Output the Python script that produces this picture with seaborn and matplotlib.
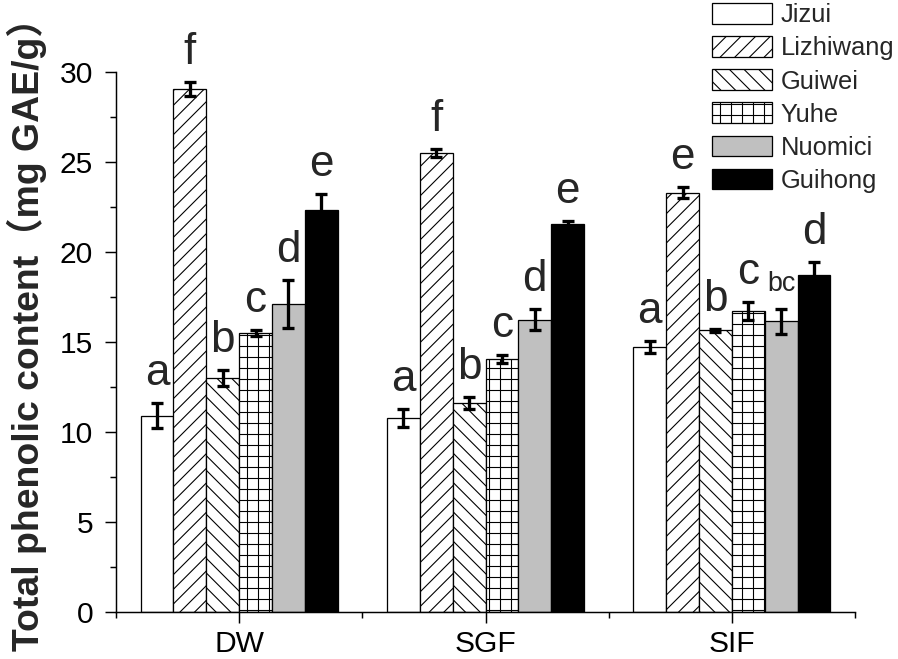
import pandas as pd
import matplotlib
matplotlib.use('Agg')
import matplotlib.pyplot as plt
from matplotlib.patches import Patch
from matplotlib.ticker import MultipleLocator, FixedLocator
import seaborn as sns

groups = ['DW', 'SGF', 'SIF']
cultivars = ['Jizui', 'Lizhiwang', 'Guiwei', 'Yuhe', 'Nuomici', 'Guihong']

# mean values per cultivar (DW, SGF, SIF)
jizui = [10.9, 10.8, 14.7]
lizhiwang = [29.05, 25.5, 23.3]
guiwei = [13.0, 11.6, 15.65]
yuhe = [15.5, 14.05, 16.75]
nuomici = [17.1, 16.25, 16.15]
guihong = [22.35, 21.55, 18.75]

# standard deviations
jizui_sd = [0.7, 0.5, 0.33]
lizhiwang_sd = [0.4, 0.2, 0.3]
guiwei_sd = [0.42, 0.33, 0.08]
yuhe_sd = [0.15, 0.23, 0.5]
nuomici_sd = [1.35, 0.6, 0.68]
guihong_sd = [0.85, 0.15, 0.67]

# significance letters
jizui_lt = ['a', 'a', 'a']
lizhiwang_lt = ['f', 'f', 'e']
guiwei_lt = ['b', 'b', 'b']
yuhe_lt = ['c', 'c', 'c']
nuomici_lt = ['d', 'd', 'bc']
guihong_lt = ['e', 'e', 'd']

means = [jizui, lizhiwang, guiwei, yuhe, nuomici, guihong]
sds = [jizui_sd, lizhiwang_sd, guiwei_sd, yuhe_sd, nuomici_sd, guihong_sd]
letters = [jizui_lt, lizhiwang_lt, guiwei_lt, yuhe_lt, nuomici_lt, guihong_lt]

rows = []
for c, m, s, l in zip(cultivars, means, sds, letters):
    for g, mv, sv, lv in zip(groups, m, s, l):
        rows.append({'group': g, 'cultivar': c, 'value': mv, 'sd': sv, 'letter': lv})
df = pd.DataFrame(rows)

sns.set_style('ticks')
plt.rcParams['font.family'] = ['Liberation Sans', 'Noto Sans CJK SC', 'DejaVu Sans']
plt.rcParams['hatch.linewidth'] = 0.6

# dpi 132 so that the hatch spacing comes out close to the original
DPI = 132
fig = plt.figure(figsize=(898/DPI, 659/DPI), dpi=DPI)
ax = fig.add_axes([116/898, 1 - 612/659, (855-116)/898, (612-72)/659])

sns.barplot(data=df, x='group', y='value', hue='cultivar', order=groups,
            hue_order=cultivars, errorbar=None, width=0.8, gap=0,
            legend=False, ax=ax)

colors = ['white', 'white', 'white', 'white', '#c0c0c0', 'black']
hatches = ['', '///', '\\\\\\', '++', '', '']

bars = sorted(ax.patches, key=lambda p: p.get_x())
for i, p in enumerate(bars):
    gi, ci = divmod(i, 6)
    p.set_facecolor(colors[ci])
    p.set_hatch(hatches[ci])
    p.set_edgecolor('black')
    p.set_linewidth(0.7)
    row = df[(df.group == groups[gi]) & (df.cultivar == cultivars[ci])].iloc[0]
    xc = p.get_x() + p.get_width() / 2
    ax.errorbar(xc, row.value, yerr=row.sd, fmt='none', ecolor='black',
                elinewidth=1.8, capsize=3.5, capthick=1.8, zorder=5, clip_on=False)
    fs = 14.7 if len(row.letter) > 1 else 24
    ax.text(xc, row.value + row.sd + 1.0, row.letter, ha='center', va='baseline',
            fontsize=fs, clip_on=False)

ax.set_xlim(-0.5, 2.5)
ax.set_ylim(0, 30)
ax.yaxis.set_major_locator(MultipleLocator(5))
ax.yaxis.set_minor_locator(MultipleLocator(2.5))
ax.xaxis.set_minor_locator(FixedLocator([-0.5, 0.5, 1.5, 2.5]))
ax.tick_params(axis='both', which='major', direction='out', length=6, width=0.8,
               labelsize=16.4, color='black', labelcolor='black')
ax.tick_params(axis='both', which='minor', direction='out', length=3.3, width=0.8,
               color='black')
ax.tick_params(axis='x', which='major', pad=3.6)
ax.tick_params(axis='y', which='major', pad=6.5)
for side in ['top', 'right']:
    ax.spines[side].set_visible(False)
for side in ['left', 'bottom']:
    ax.spines[side].set_linewidth(0.8)
    ax.spines[side].set_color('black')

ax.set_xlabel('')
ax.set_ylabel('Total phenolic content（mg GAE/g）', fontsize=20.4, fontweight='bold')
ax.yaxis.set_label_coords(-0.093, 0.532)

handles = [Patch(facecolor=colors[i], edgecolor='black', hatch=hatches[i],
                 linewidth=0.7, label=cultivars[i]) for i in range(6)]
fig.legend(handles=handles, loc='upper left', bbox_to_anchor=(711/898, 1 - 2/659),
           frameon=False, fontsize=13.9, handlelength=2.36, handleheight=0.87,
           handletextpad=0.32, labelspacing=0.35, borderpad=0.05, borderaxespad=0)

fig.savefig('out.png', dpi=DPI)
